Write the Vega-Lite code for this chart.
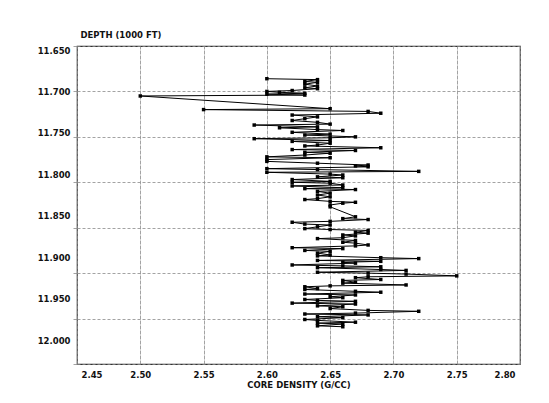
{
  "$schema": "https://vega.github.io/schema/vega-lite/v6.json",
  "width": 443,
  "height": 318,
  "autosize": {"type": "none"},
  "padding": {"left": 77, "top": 46, "right": 29, "bottom": 39},
  "background": "white",
  "config": {
    "view": {"stroke": "#333333", "strokeWidth": 1.2},
    "font": "DejaVu Sans"
  },
  "data": {
    "values": [
      {"depth": 11.686, "density": 2.60}, {"depth": 11.687, "density": 2.64}, {"depth": 11.689, "density": 2.63},
      {"depth": 11.690, "density": 2.64}, {"depth": 11.692, "density": 2.63}, {"depth": 11.694, "density": 2.64},
      {"depth": 11.696, "density": 2.63}, {"depth": 11.697, "density": 2.64}, {"depth": 11.699, "density": 2.62},
      {"depth": 11.700, "density": 2.60}, {"depth": 11.701, "density": 2.61}, {"depth": 11.702, "density": 2.63},
      {"depth": 11.703, "density": 2.60}, {"depth": 11.704, "density": 2.63}, {"depth": 11.705, "density": 2.50},
      {"depth": 11.719, "density": 2.65}, {"depth": 11.720, "density": 2.55}, {"depth": 11.722, "density": 2.68},
      {"depth": 11.724, "density": 2.69}, {"depth": 11.726, "density": 2.62}, {"depth": 11.728, "density": 2.64},
      {"depth": 11.730, "density": 2.63}, {"depth": 11.732, "density": 2.62}, {"depth": 11.734, "density": 2.64},
      {"depth": 11.736, "density": 2.65}, {"depth": 11.737, "density": 2.59}, {"depth": 11.739, "density": 2.64},
      {"depth": 11.740, "density": 2.61}, {"depth": 11.742, "density": 2.64}, {"depth": 11.743, "density": 2.66},
      {"depth": 11.745, "density": 2.62}, {"depth": 11.747, "density": 2.65}, {"depth": 11.748, "density": 2.63},
      {"depth": 11.750, "density": 2.67}, {"depth": 11.751, "density": 2.65}, {"depth": 11.752, "density": 2.59},
      {"depth": 11.754, "density": 2.65}, {"depth": 11.755, "density": 2.62}, {"depth": 11.757, "density": 2.65},
      {"depth": 11.759, "density": 2.64}, {"depth": 11.760, "density": 2.63}, {"depth": 11.762, "density": 2.69},
      {"depth": 11.764, "density": 2.62}, {"depth": 11.765, "density": 2.67}, {"depth": 11.767, "density": 2.63},
      {"depth": 11.768, "density": 2.65}, {"depth": 11.770, "density": 2.63}, {"depth": 11.772, "density": 2.60},
      {"depth": 11.773, "density": 2.65}, {"depth": 11.775, "density": 2.60}, {"depth": 11.777, "density": 2.60},
      {"depth": 11.779, "density": 2.64}, {"depth": 11.781, "density": 2.68}, {"depth": 11.782, "density": 2.67},
      {"depth": 11.783, "density": 2.68}, {"depth": 11.785, "density": 2.60}, {"depth": 11.786, "density": 2.64},
      {"depth": 11.788, "density": 2.72}, {"depth": 11.789, "density": 2.60}, {"depth": 11.791, "density": 2.65},
      {"depth": 11.792, "density": 2.66}, {"depth": 11.794, "density": 2.64}, {"depth": 11.795, "density": 2.66},
      {"depth": 11.797, "density": 2.62}, {"depth": 11.799, "density": 2.65}, {"depth": 11.800, "density": 2.62},
      {"depth": 11.801, "density": 2.65}, {"depth": 11.803, "density": 2.66}, {"depth": 11.804, "density": 2.62},
      {"depth": 11.806, "density": 2.66}, {"depth": 11.807, "density": 2.63}, {"depth": 11.808, "density": 2.67},
      {"depth": 11.810, "density": 2.64}, {"depth": 11.812, "density": 2.65}, {"depth": 11.814, "density": 2.64},
      {"depth": 11.816, "density": 2.65}, {"depth": 11.818, "density": 2.64}, {"depth": 11.819, "density": 2.63},
      {"depth": 11.821, "density": 2.65}, {"depth": 11.822, "density": 2.67}, {"depth": 11.823, "density": 2.66},
      {"depth": 11.825, "density": 2.65}, {"depth": 11.827, "density": 2.65}, {"depth": 11.838, "density": 2.67},
      {"depth": 11.840, "density": 2.66}, {"depth": 11.841, "density": 2.68}, {"depth": 11.843, "density": 2.65},
      {"depth": 11.844, "density": 2.62}, {"depth": 11.846, "density": 2.63}, {"depth": 11.847, "density": 2.65},
      {"depth": 11.849, "density": 2.64}, {"depth": 11.851, "density": 2.63}, {"depth": 11.852, "density": 2.65},
      {"depth": 11.853, "density": 2.68}, {"depth": 11.855, "density": 2.67}, {"depth": 11.856, "density": 2.68},
      {"depth": 11.858, "density": 2.66}, {"depth": 11.859, "density": 2.67}, {"depth": 11.861, "density": 2.66},
      {"depth": 11.862, "density": 2.64}, {"depth": 11.864, "density": 2.67}, {"depth": 11.866, "density": 2.66},
      {"depth": 11.867, "density": 2.67}, {"depth": 11.869, "density": 2.68}, {"depth": 11.870, "density": 2.67},
      {"depth": 11.872, "density": 2.62}, {"depth": 11.873, "density": 2.66}, {"depth": 11.875, "density": 2.63},
      {"depth": 11.876, "density": 2.65}, {"depth": 11.878, "density": 2.64}, {"depth": 11.880, "density": 2.65},
      {"depth": 11.881, "density": 2.64}, {"depth": 11.883, "density": 2.69}, {"depth": 11.884, "density": 2.72},
      {"depth": 11.886, "density": 2.64}, {"depth": 11.887, "density": 2.69}, {"depth": 11.888, "density": 2.66},
      {"depth": 11.889, "density": 2.67}, {"depth": 11.891, "density": 2.62}, {"depth": 11.892, "density": 2.66},
      {"depth": 11.893, "density": 2.69}, {"depth": 11.894, "density": 2.64}, {"depth": 11.896, "density": 2.69},
      {"depth": 11.897, "density": 2.71}, {"depth": 11.899, "density": 2.64}, {"depth": 11.900, "density": 2.68},
      {"depth": 11.901, "density": 2.71}, {"depth": 11.903, "density": 2.75}, {"depth": 11.904, "density": 2.68},
      {"depth": 11.905, "density": 2.67}, {"depth": 11.907, "density": 2.69}, {"depth": 11.908, "density": 2.66},
      {"depth": 11.910, "density": 2.67}, {"depth": 11.911, "density": 2.66}, {"depth": 11.913, "density": 2.71},
      {"depth": 11.914, "density": 2.65}, {"depth": 11.915, "density": 2.63}, {"depth": 11.917, "density": 2.64},
      {"depth": 11.918, "density": 2.63}, {"depth": 11.920, "density": 2.67}, {"depth": 11.921, "density": 2.69},
      {"depth": 11.923, "density": 2.63}, {"depth": 11.924, "density": 2.67}, {"depth": 11.926, "density": 2.65},
      {"depth": 11.927, "density": 2.66}, {"depth": 11.929, "density": 2.63}, {"depth": 11.930, "density": 2.64},
      {"depth": 11.931, "density": 2.67}, {"depth": 11.933, "density": 2.62}, {"depth": 11.934, "density": 2.67},
      {"depth": 11.936, "density": 2.64}, {"depth": 11.937, "density": 2.66}, {"depth": 11.939, "density": 2.65},
      {"depth": 11.941, "density": 2.68}, {"depth": 11.942, "density": 2.72}, {"depth": 11.944, "density": 2.67},
      {"depth": 11.945, "density": 2.63}, {"depth": 11.946, "density": 2.68}, {"depth": 11.948, "density": 2.64},
      {"depth": 11.949, "density": 2.66}, {"depth": 11.951, "density": 2.63}, {"depth": 11.952, "density": 2.64},
      {"depth": 11.954, "density": 2.67}, {"depth": 11.955, "density": 2.64}, {"depth": 11.956, "density": 2.66},
      {"depth": 11.958, "density": 2.64}, {"depth": 11.959, "density": 2.66}
    ]
  },
  "mark": {
    "type": "line",
    "color": "black",
    "strokeWidth": 1,
    "point": {"shape": "square", "filled": true, "size": 12, "color": "black"}
  },
  "encoding": {
    "x": {
      "field": "density",
      "type": "quantitative",
      "scale": {"domain": [2.45, 2.80], "nice": false, "zero": false},
      "axis": {
        "values": [2.45, 2.50, 2.55, 2.60, 2.65, 2.70, 2.75, 2.80],
        "format": ".2f",
        "title": "CORE DENSITY  (G/CC)",
        "grid": true,
        "gridColor": "#8c8c8c",
        "gridWidth": 0.8,
        "gridDash": [4, 1],
        "domain": false,
        "ticks": false,
        "labelPadding": 6,
        "labelOffset": {"expr": "datum.value < 2.46 ? 4 : (datum.value > 2.79 ? -5 : 0)"},
        "labelFontSize": 8.5,
        "labelFontWeight": "bold",
        "labelColor": "#111111",
        "titleFontSize": 8.5,
        "titleFontWeight": "bold",
        "titleColor": "#111111",
        "titlePadding": 2
      }
    },
    "y": {
      "field": "depth",
      "type": "quantitative",
      "scale": {"domain": [11.65, 12.0], "reverse": true, "nice": false, "zero": false},
      "axis": {
        "values": [11.65, 11.70, 11.75, 11.80, 11.85, 11.90, 11.95, 12.0],
        "format": ".3f",
        "title": "DEPTH (1000 FT)",
        "titleAngle": 0,
        "titleAlign": "left",
        "titleBaseline": "alphabetic",
        "titleX": 3,
        "titleY": -9,
        "grid": true,
        "gridColor": "#8c8c8c",
        "gridWidth": 0.8,
        "gridDash": [3, 2],
        "domain": false,
        "ticks": true,
        "tickSize": 4,
        "tickColor": "#8c8c8c",
        "tickWidth": 0.8,
        "labelPadding": 3,
        "labelOffset": {"expr": "4 - (datum.value - 11.65) * 80"},
        "labelFontSize": 8.5,
        "labelFontWeight": "bold",
        "labelColor": "#111111",
        "titleFontSize": 8.5,
        "titleFontWeight": "bold",
        "titleColor": "#111111"
      }
    },
    "order": {"field": "depth", "type": "quantitative"}
  }
}
